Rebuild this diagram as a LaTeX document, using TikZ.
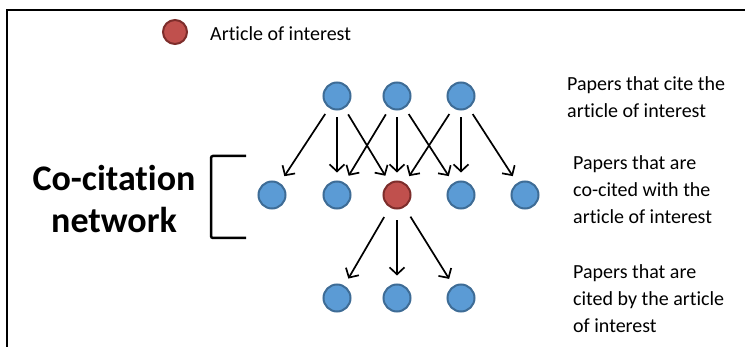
\documentclass[tikz,border=0pt]{standalone}
\usepackage{fontspec}
\setmainfont{Carlito}[Ligatures={NoCommon,NoContextual},Contextuals=NoAlternate]
\usetikzlibrary{arrows.meta}
\definecolor{paperblue}{RGB}{91,155,213}
\definecolor{paperedge}{RGB}{62,108,150}
\definecolor{articlered}{RGB}{192,80,77}
\definecolor{articleedge}{RGB}{125,45,43}

\begin{document}
\begin{tikzpicture}[x=1pt,y=-1pt,
  paper/.style={circle,draw=paperedge,fill=paperblue,line width=2pt,minimum size=27pt,inner sep=0pt},
  article/.style={paper,draw=articleedge,fill=articlered},
  cites/.style={-{Straight Barb[length=7pt,width=15pt]},line width=1.7pt,shorten <=7pt,shorten >=8pt},
  desc/.style={anchor=west,align=left,inner sep=0pt,font=\fontsize{20}{27}\selectfont}]
\useasboundingbox (0,0) rectangle (745,347);

% Frame (top and left edges only)
\draw[line width=2pt] (745,10) -- (7,10) -- (7,347);

% Legend
\node[article,minimum size=24pt] (key) at (175,32) {};
\node[desc] (keytext) at (210,34) {Article of interest};

% Papers that cite the article
\node[paper] (t1) at (337,96) {};
\node[paper] (t2) at (397,96) {};
\node[paper] (t3) at (461,96) {};

% Co-cited papers and the article
\node[paper] (m1) at (272,195) {};
\node[paper] (m2) at (337,195) {};
\node[article] (art) at (397,195) {};
\node[paper] (m4) at (461,195) {};
\node[paper] (m5) at (525,195) {};

% Papers cited by the article
\node[paper] (b1) at (337,298) {};
\node[paper] (b2) at (397,298) {};
\node[paper] (b3) at (461,298) {};

% Citations
\draw[cites] (t1) -- (m1);
\draw[cites] (t1) -- (m2);
\draw[cites] (t1) -- (art);
\draw[cites] (t2) -- (m2);
\draw[cites] (t2) -- (art);
\draw[cites] (t2) -- (m4);
\draw[cites] (t3) -- (art);
\draw[cites] (t3) -- (m4);
\draw[cites] (t3) -- (m5);
\draw[cites,shorten <=11pt] (art) -- (b1);
\draw[cites,shorten <=11pt] (art) -- (b2);
\draw[cites,shorten <=11pt] (art) -- (b3);

% Bracket and network label
\draw[line width=2.5pt,rounded corners=2pt] (246,156) -- (211,156) -- (211,238) -- (246,238);
\node[align=center,inner sep=0pt,font=\fontsize{36}{42}\bfseries\selectfont] (cocit) at (114,199) {Co-citation\\network};

% Row descriptions
\node[desc] (citing) at (567,97) {Papers that cite the\\article of interest};
\node[desc] (cocited) at (573,190) {Papers that are\\co-cited with the\\article of interest};
\node[desc] (cited) at (573,299) {Papers that are\\cited by the article\\of interest};
\end{tikzpicture}
\end{document}
